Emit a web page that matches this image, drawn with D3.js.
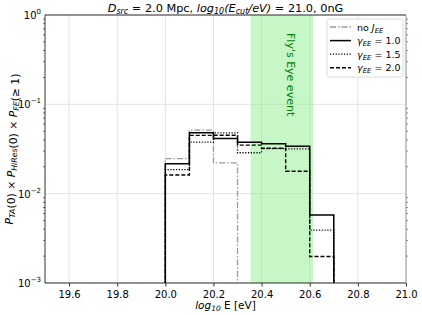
<!DOCTYPE html>
<html>
<head>
<meta charset="utf-8">
<script src="https://cdn.jsdelivr.net/npm/d3@7"></script>
<style>
  body { margin: 0; background: #fff; }
  svg { font-family: "DejaVu Sans", sans-serif; }
</style>
</head>
<body>
<svg id="chart"></svg>
<script>
// bin edges of the histogram (log10 E)
var binEdges = [20.0, 20.1, 20.2, 20.3, 20.4, 20.5, 20.6, 20.7]
var noJEE   = [0.0247, 0.0514, 0.0221]
var gamma10 = [0.0216, 0.048, 0.0415, 0.0377, 0.0362, 0.034, 0.00576]
var gamma15 = [0.0186, 0.0377, 0.048, 0.0287, 0.032, 0.0318, 0.0039]
var gamma20 = [0.0162, 0.0449, 0.045, 0.0349, 0.0323, 0.0178, 0.00198]
var xTicks = [19.6, 19.8, 20.0, 20.2, 20.4, 20.6, 20.8, 21.0]
var yTicks = [-3, -2, -1, 0]
var flysEye = [20.354, 20.614]

var dimensions = ({
    width: 422,
    height: 315,
    margin: { top: 15, bottom: 32, right: 16, left: 45 }
})

var svg = d3.select("#chart")
    .attr("width", dimensions.width)
    .attr("height", dimensions.height)

var x0 = dimensions.margin.left
var x1 = dimensions.width - dimensions.margin.right
var y0 = dimensions.height - dimensions.margin.bottom
var y1 = dimensions.margin.top

var xScale = d3.scaleLinear().domain([19.5, 21.0]).range([x0, x1])
var yScale = d3.scaleLog().domain([1e-3, 1]).range([y0, y1])

svg.append("clipPath").attr("id", "clip")
    .append("rect").attr("x", x0).attr("y", y1).attr("width", x1 - x0).attr("height", y0 - y1)

// grid
var grid = svg.append("g")
grid.selectAll("line.vx").data(xTicks).enter().append("line")
    .attr("x1", d => xScale(d)).attr("x2", d => xScale(d))
    .attr("y1", y1).attr("y2", y0)
    .attr("stroke", "#e2e2e2").attr("stroke-width", 1)
grid.selectAll("line.hy").data(yTicks).enter().append("line")
    .attr("x1", x0).attr("x2", x1)
    .attr("y1", d => yScale(Math.pow(10, d))).attr("y2", d => yScale(Math.pow(10, d)))
    .attr("stroke", "#e2e2e2").attr("stroke-width", 1)

// Fly's Eye band
svg.append("rect")
    .attr("x", xScale(flysEye[0]))
    .attr("width", xScale(flysEye[1]) - xScale(flysEye[0]))
    .attr("y", y1).attr("height", y0 - y1)
    .attr("fill", "#90ee90").attr("opacity", 0.5)

var bandMid = xScale((flysEye[0] + flysEye[1]) / 2)
svg.append("text")
    .attr("transform", "translate(" + (bandMid + 5) + "," + 33 + ") rotate(90)")
    .attr("font-size", 11)
    .attr("fill", "green")
    .text("Fly's Eye event")

// step histograms
function stepPoints(vals) {
    var pts = [[binEdges[0], null]]
    vals.forEach(function (v, i) {
        pts.push([binEdges[i], v])
        pts.push([binEdges[i + 1], v])
    })
    pts.push([binEdges[vals.length], null])
    return pts
}
var line = d3.line()
    .x(d => xScale(d[0]))
    .y(d => d[1] == null ? y0 + 2 : yScale(d[1]))

var series = [
    { vals: noJEE, color: "#9a9a9a", dash: "6,2,1.5,2", width: 1.3 },
    { vals: gamma15, color: "#000", dash: "1.2,1.6", width: 1.3 },
    { vals: gamma20, color: "#000", dash: "4,2", width: 1.4 },
    { vals: gamma10, color: "#000", dash: null, width: 1.5 }
]
var lines = svg.append("g").attr("clip-path", "url(#clip)")
series.forEach(function (s) {
    lines.append("path")
        .attr("d", line(stepPoints(s.vals)))
        .attr("fill", "none")
        .attr("stroke", s.color)
        .attr("stroke-width", s.width)
        .attr("stroke-dasharray", s.dash)
})

// axes
var xAxis = d3.axisBottom(xScale).tickValues(xTicks).tickFormat(d3.format(".1f")).tickSize(3.5).tickSizeOuter(0)
var gx = svg.append("g").attr("transform", "translate(0," + y0 + ")").call(xAxis)
gx.select(".domain").remove()
gx.selectAll("text").attr("font-size", 10).attr("font-family", "DejaVu Sans").attr("fill", "#000").attr("dy", "0.85em")
gx.selectAll("line").attr("stroke", "#333")

var minor = []
for (var e = -3; e < 0; e++) for (var m = 2; m < 10; m++) minor.push(m * Math.pow(10, e))
svg.append("g").selectAll("line").data(minor).enter().append("line")
    .attr("x1", x0 - 2).attr("x2", x0)
    .attr("y1", d => yScale(d)).attr("y2", d => yScale(d))
    .attr("stroke", "#333").attr("stroke-width", 0.7)
svg.append("g").selectAll("line").data(minor).enter().append("line")
    .attr("x1", x1).attr("x2", x1 + 2)
    .attr("y1", d => yScale(d)).attr("y2", d => yScale(d))
    .attr("stroke", "#555").attr("stroke-width", 0.7)

var yLab = svg.append("g").selectAll("text").data(yTicks).enter().append("text")
    .attr("x", x0 - 4).attr("y", d => yScale(Math.pow(10, d)) + 4)
    .attr("text-anchor", "end").attr("font-size", 10)
yLab.append("tspan").text("10")
yLab.append("tspan").attr("dy", -5).attr("font-size", 7).text(d => d < 0 ? "\u2212" + (-d) : d)

// frame
svg.append("line").attr("x1", x0).attr("x2", x1).attr("y1", y1).attr("y2", y1).attr("stroke", "#333")
svg.append("line").attr("x1", x0).attr("x2", x1).attr("y1", y0).attr("y2", y0).attr("stroke", "#333")
svg.append("line").attr("x1", x0).attr("x2", x0).attr("y1", y1).attr("y2", y0).attr("stroke", "#333")
svg.append("line").attr("x1", x1).attr("x2", x1).attr("y1", y1).attr("y2", y0).attr("stroke", "#999")

// title
var title = svg.append("text").attr("x", (x0 + x1) / 2).attr("y", 12)
    .attr("text-anchor", "middle").attr("font-size", 11.3)
title.append("tspan").attr("font-style", "italic").text("D")
title.append("tspan").attr("font-style", "italic").attr("font-size", 8).attr("dy", 2).text("src")
title.append("tspan").attr("dy", -2).text(" = 2.0 Mpc, ")
title.append("tspan").attr("font-style", "italic").text("log")
title.append("tspan").attr("font-size", 8).attr("font-style", "italic").attr("dy", 2).text("10")
title.append("tspan").attr("dy", -2).attr("font-style", "italic").text("(E")
title.append("tspan").attr("font-style", "italic").attr("font-size", 8).attr("dy", 2).text("cut")
title.append("tspan").attr("dy", -2).attr("font-style", "italic").text("/eV)")
title.append("tspan").text(" = 21.0, 0nG")

// x label
var xl = svg.append("text").attr("x", (x0 + x1) / 2).attr("y", 309)
    .attr("text-anchor", "middle").attr("font-size", 10.5)
xl.append("tspan").attr("font-style", "italic").text("log")
xl.append("tspan").attr("font-style", "italic").attr("font-size", 7.5).attr("dy", 2).text("10")
xl.append("tspan").attr("dy", -2).text(" E [eV]")

// y label
var yl = svg.append("text")
    .attr("transform", "translate(13," + ((y0 + y1) / 2) + ") rotate(-90)")
    .attr("text-anchor", "middle").attr("font-size", 10.8)
function sub(t, base, s) {
    t.append("tspan").attr("font-style", "italic").text(base)
    t.append("tspan").attr("font-style", "italic").attr("font-size", 7.8).attr("dy", 2).text(s)
    t.append("tspan").attr("dy", -2).text("")
}
sub(yl, "P", "TA")
yl.append("tspan").text("(0) \u00d7 ")
sub(yl, "P", "HiRes")
yl.append("tspan").text("(0) \u00d7 ")
sub(yl, "P", "FE")
yl.append("tspan").text("(\u2265 1)")

// legend
var lg = svg.append("g").attr("transform", "translate(327,19)")
lg.append("rect").attr("width", 76).attr("height", 58).attr("rx", 2)
    .attr("fill", "#fff").attr("fill-opacity", 0.85).attr("stroke", "#d0d0d0").attr("stroke-width", 0.8)
var legendItems = [
    { s: series[0], base: "no ", sym: "J" },
    { s: series[3], base: "", sym: "\u03b3", val: " = 1.0" },
    { s: series[1], base: "", sym: "\u03b3", val: " = 1.5" },
    { s: series[2], base: "", sym: "\u03b3", val: " = 2.0" }
]
legendItems.forEach(function (it, i) {
    var yy = 8 + i * 13.6
    lg.append("line").attr("x1", 3).attr("x2", 24).attr("y1", yy).attr("y2", yy)
        .attr("stroke", it.s.color).attr("stroke-width", it.s.width)
        .attr("stroke-dasharray", it.s.dash)
    var t = lg.append("text").attr("x", 30).attr("y", yy + 3.5).attr("font-size", 9.5)
    if (it.base) t.append("tspan").text(it.base)
    t.append("tspan").attr("font-style", "italic").text(it.sym)
    t.append("tspan").attr("font-style", "italic").attr("font-size", 7).attr("dy", 2).text("EE")
    t.append("tspan").attr("dy", -2).text(it.val || "")
})
</script>
</body>
</html>
